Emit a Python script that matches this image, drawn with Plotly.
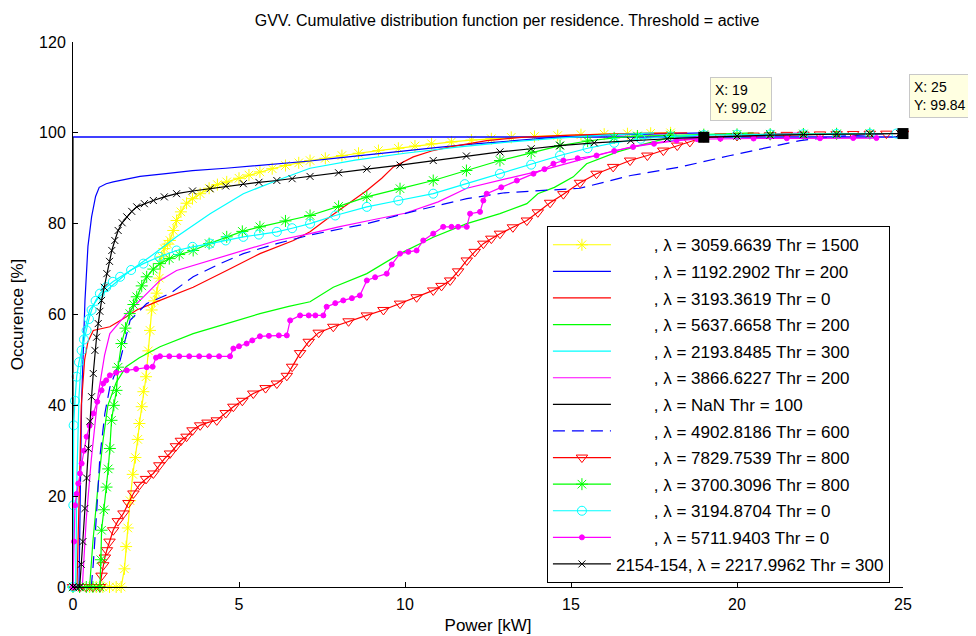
import plotly.graph_objects as go

# CDF curves, (power kW, occurence %)
yellow_star = [(0.5, 0), (0.7, 0), (0.9, 0), (1.1, 0), (1.3, 0), (1.45, 0), (1.55, 4), (1.6, 8.9),
               (1.65, 13), (1.72, 19), (1.8, 24.8), (1.88, 28.5), (1.95, 32.5), (2.0, 36), (2.07, 39.7),
               (2.12, 43), (2.2, 46.3), (2.27, 52), (2.32, 56.5), (2.37, 61), (2.45, 63), (2.52, 64.7),
               (2.6, 68), (2.67, 72.7), (2.75, 74.5), (2.85, 75.5), (2.92, 76.3), (3.02, 78.5), (3.12, 80.7),
               (3.25, 82.6), (3.42, 84.5), (3.6, 85.5), (3.83, 86.6), (4.1, 87.8), (4.35, 88.6), (4.63, 89.2),
               (5.0, 90.0), (5.3, 90.7), (5.63, 91.4), (6.0, 92.1), (6.4, 92.8), (6.8, 93.4), (7.14, 93.9),
               (7.6, 94.4), (8.1, 95.0), (8.6, 95.5), (9.2, 96.1), (9.8, 96.6), (10.3, 97.1), (10.8, 97.6),
               (11.4, 98.0), (12.0, 98.4), (12.6, 98.7), (13.2, 99.0), (13.9, 99.2), (14.6, 99.4), (15.3, 99.6),
               (16.0, 99.7), (16.7, 99.8), (17.4, 99.9), (18.0, 100)]
blue_solid = [(0.18, 0), (0.22, 20), (0.26, 41), (0.36, 63), (0.45, 75), (0.56, 81.5), (0.68, 86), (0.79, 88),
              (1.0, 88.8), (1.21, 89.2), (1.6, 89.8), (2.02, 90.4), (2.8, 91.0), (3.6, 91.7), (4.6, 92.2),
              (5.6, 92.8), (6.4, 93.3), (7.14, 93.8), (8.0, 94.5), (9.0, 95.3), (10.0, 96.0), (11.0, 96.8),
              (12.0, 97.5), (13.0, 98.1), (14.0, 98.7), (14.7, 99.1), (16.0, 99.5), (17.5, 99.8), (19.0, 100)]
blue_level = [(0, 99.1), (25, 99.1)]
red_thin = [(0.12, 0), (0.18, 20), (0.25, 40), (0.35, 50), (0.45, 54), (0.61, 56.5), (1.11, 57.3), (1.5, 59),
            (1.92, 61), (2.62, 63.1), (3.62, 66), (4.63, 69.7), (5.63, 73.4), (6.64, 76.3), (7.14, 78.2),
            (7.74, 81.5), (8.3, 84.5), (8.85, 87.3), (9.3, 90), (9.65, 92.5), (10.25, 94.7), (10.8, 96),
            (11.36, 96.9), (12.46, 98.3), (13.5, 99), (15.0, 99.5), (17.0, 99.9), (18.5, 100)]
green_thin = [(0.5, 0), (0.6, 10), (0.75, 22), (0.9, 32), (1.05, 40), (1.3, 45), (1.6, 48.5), (2.0, 50.5),
              (2.62, 52.9), (3.62, 55.8), (4.63, 58), (5.63, 60.2), (6.5, 61.8), (7.14, 62.8), (7.84, 66),
              (8.85, 69), (9.85, 73.4), (10.85, 77), (11.86, 80), (12.86, 82.2), (13.67, 84.4), (14.0, 86.6),
              (14.5, 88), (15.07, 90.3), (15.47, 93.2), (16.4, 95.8), (17.2, 97.5), (18.0, 99), (19.0, 99.6),
              (20.5, 100)]
cyan_thin = [(0.08, 0), (0.12, 25), (0.18, 42), (0.3, 55), (0.5, 61), (0.8, 64), (1.2, 66.5), (1.7, 69.5),
             (2.32, 72.7), (3.12, 77.1), (4.13, 82.2), (5.13, 86.6), (6.14, 89.5), (7.14, 92.2), (8.5, 94.0),
             (10.0, 95.5), (11.5, 96.8), (13.0, 97.9), (14.5, 98.8), (16.0, 99.5), (17.5, 100)]
magenta_thin = [(0.28, 0), (0.4, 15), (0.55, 28), (0.75, 42), (0.95, 51), (1.11, 55.8), (1.62, 60.2),
                (2.12, 63.9), (2.62, 67.5), (3.12, 69.7), (4.13, 71.9), (5.13, 74.1), (6.14, 76.3),
                (7.14, 77.8), (8.0, 79.3), (9.0, 80.8), (10.0, 82.3), (11.0, 84.8), (11.86, 87.8), (13.0, 89.8),
                (14.0, 91.5), (15.0, 93.5), (16.0, 95.5), (17.0, 97.2), (18.0, 98.3), (19.0, 99.0),
                (20.5, 99.6), (22.0, 100)]
black_thin = [(0, 0), (0, 99)]
blue_dashed = [(0.55, 0), (0.61, 5), (0.71, 16.2), (0.81, 28.7), (0.96, 38.2), (1.11, 44), (1.42, 49.9),
               (1.72, 58.7), (2.22, 62.4), (2.92, 64.6), (3.62, 68.3), (4.43, 71.2), (5.13, 73.4),
               (6.14, 75.6), (7.14, 77.5), (8.85, 80), (10.35, 82.9), (11.86, 85.5), (13.0, 86.8),
               (14.0, 87.2), (15.27, 87.8), (16.8, 90.6), (18.3, 92.5), (19.8, 95), (21.0, 96.8),
               (21.9, 98.3), (23.0, 99.2), (24.5, 99.8)]
red_tri = [(0.0, 0), (0.2, 0), (0.4, 0), (0.6, 0), (0.81, 0), (0.86, 2.5), (0.91, 4.8), (0.96, 6.5),
           (1.02, 8.1), (1.1, 10), (1.21, 12.5), (1.35, 14.5), (1.52, 16.2), (1.67, 18.5), (1.82, 20.6),
           (2.0, 22.5), (2.2, 23.8), (2.42, 25), (2.6, 26.8), (2.75, 28.2), (2.92, 29.4), (3.1, 31),
           (3.25, 32.2), (3.42, 33.1), (3.6, 34.5), (3.83, 35.6), (4.05, 36.2), (4.33, 36.7), (4.6, 38.3),
           (4.83, 39.7), (5.1, 41), (5.43, 42.6), (5.8, 43.8), (6.14, 44.8), (6.44, 46.5), (6.6, 48.5),
           (6.84, 51.5), (7.1, 54), (7.4, 56), (7.84, 57.3), (8.3, 58.5), (8.85, 59.8), (9.35, 61),
           (9.85, 62.4), (10.35, 63.8), (10.85, 65.3), (11.1, 66.3), (11.36, 67.5), (11.6, 69.5),
           (11.86, 71.9), (12.1, 73.8), (12.36, 75.6), (12.6, 76.7), (12.86, 77.8), (13.25, 79.2),
           (13.67, 80.7), (14.0, 82.5), (14.37, 84.6), (14.77, 86.5), (15.27, 89), (15.77, 91),
           (16.27, 92.5), (16.78, 93.9), (17.3, 95), (17.78, 96.1), (18.2, 97.2), (18.58, 98), (19.0, 99.02),
           (19.5, 99.2), (20.0, 99.3), (20.5, 99.4), (21.0, 99.5), (21.5, 99.55), (22.0, 99.6), (22.5, 99.65),
           (23.0, 99.7), (23.5, 99.75), (24.0, 99.8), (24.5, 99.82), (25.0, 99.84)]
green_star = [(0.0, 0), (0.2, 0), (0.4, 0), (0.6, 0), (0.81, 0), (0.84, 6), (0.86, 12.5), (0.93, 17),
              (1.01, 22), (1.06, 26), (1.11, 30.5), (1.16, 36.7), (1.23, 40), (1.31, 43.3), (1.36, 48.4),
              (1.46, 53.6), (1.58, 57), (1.71, 60.2), (1.82, 62.2), (1.92, 63.9), (2.07, 66.3), (2.22, 68.3),
              (2.42, 70), (2.62, 71.2), (2.9, 72.3), (3.2, 73.2), (3.62, 74.1), (4.1, 75.6), (4.63, 77.1),
              (5.1, 78.3), (5.63, 79.3), (6.4, 80.6), (7.14, 81.8), (8.0, 83.8), (8.85, 85.9), (9.85, 87.7),
              (10.85, 89.5), (11.85, 91.7), (12.86, 93.9), (13.8, 95.6), (14.67, 97.2), (15.5, 98.2),
              (16.3, 98.9), (17.0, 99.3), (18.0, 99.5), (19.0, 99.6), (20.0, 99.65), (21.0, 99.7),
              (22.0, 99.75), (23.0, 99.8), (24.0, 99.85)]
cyan_circle = [(0.0, 0), (0.01, 18), (0.02, 35.6), (0.06, 41), (0.11, 46.3), (0.18, 49.5), (0.26, 52.1),
               (0.33, 54.5), (0.41, 56.5), (0.48, 59), (0.56, 61), (0.68, 63), (0.81, 64.6), (1.0, 66),
               (1.2, 67.2), (1.42, 68.3), (1.75, 69.8), (2.12, 71.2), (2.6, 72.7), (3.12, 74.1), (3.6, 74.9),
               (4.13, 75.6), (4.6, 76.3), (5.13, 77.1), (5.6, 77.6), (6.14, 78.2), (6.6, 79), (7.14, 80),
               (7.9, 81.8), (8.85, 83.7), (9.8, 85.1), (10.85, 86.6), (11.8, 88.7), (12.86, 91), (13.8, 93),
               (14.67, 95), (15.5, 96.6), (16.3, 97.8), (17.1, 98.7), (18.0, 99.2), (19.0, 99.5), (20.0, 99.6),
               (21.0, 99.65), (22.0, 99.7), (23.0, 99.75), (24.0, 99.8), (24.8, 99.84)]
magenta_dot = [(0.0, 0), (0.03, 10), (0.06, 18), (0.11, 20.5), (0.16, 22.8), (0.21, 25), (0.26, 27.2),
               (0.33, 30), (0.41, 33.1), (0.5, 35.5), (0.61, 38.2), (0.73, 40.8), (0.86, 43.3), (0.91, 44.8),
               (1.0, 45.5), (1.11, 46.6), (1.3, 47.2), (1.62, 47.7), (1.9, 48), (2.22, 48.4), (2.4, 48.5),
               (2.5, 50.5), (2.62, 50.8), (2.9, 50.8), (3.2, 50.8), (3.5, 50.8), (3.8, 50.8), (4.1, 50.8),
               (4.4, 50.8), (4.73, 50.8), (4.83, 52.5), (5.0, 53), (5.23, 53.6), (5.4, 54.3), (5.63, 55.2),
               (5.9, 55.3), (6.2, 55.4), (6.44, 55.4), (6.54, 58.7), (6.84, 59.8), (7.1, 59.8), (7.3, 59.8),
               (7.54, 59.8), (7.64, 61.7), (7.9, 62.5), (8.14, 63.1), (8.4, 63.6), (8.64, 64.2), (8.85, 67.5),
               (9.1, 68.2), (9.45, 69), (9.6, 71), (9.85, 73.4), (10.1, 73.8), (10.35, 74.1), (10.55, 76.3),
               (10.85, 77.8), (11.15, 79.3), (11.4, 79.3), (11.6, 79.3), (11.86, 79.3), (11.96, 82.2),
               (12.26, 82.6), (12.36, 85.1), (12.46, 86.6), (12.9, 88), (13.37, 89.5), (13.87, 91),
               (14.2, 92), (14.47, 93.2), (14.77, 93.9), (15.2, 94.4), (15.77, 95), (16.3, 96), (16.87, 96.9),
               (17.5, 97.6), (18.18, 98.3), (18.8, 98.6), (19.5, 98.7), (20.5, 98.75), (21.5, 98.8),
               (22.5, 98.8), (23.5, 98.85), (24.2, 98.85)]
black_x = [(0.0, 0), (0.1, 0), (0.2, 0), (0.25, 5), (0.3, 10), (0.36, 17.3), (0.41, 24), (0.46, 30.5),
           (0.51, 36.5), (0.56, 41.9), (0.61, 47), (0.66, 52.1), (0.71, 55), (0.76, 58), (0.81, 60.7),
           (0.86, 63.1), (0.94, 66), (1.02, 69), (1.1, 71.7), (1.17, 74.1), (1.26, 76.3), (1.36, 78.5),
           (1.48, 80.2), (1.62, 81.5), (1.77, 82.7), (1.92, 83.7), (2.15, 84.4), (2.42, 85.1), (2.75, 85.9),
           (3.12, 86.6), (3.6, 87.2), (4.13, 87.7), (4.6, 88.3), (5.13, 88.8), (5.6, 89.1), (6.14, 89.5),
           (6.6, 89.9), (7.14, 90.4), (8.0, 91.2), (8.85, 92), (9.85, 92.9), (10.85, 93.9), (11.85, 94.9),
           (12.86, 95.8), (13.8, 96.5), (14.67, 97.2), (15.7, 97.8), (16.8, 98.3), (17.9, 98.7), (19.0, 99.0),
           (20.0, 99.3), (21.0, 99.5), (22.0, 99.6), (23.0, 99.7), (24.0, 99.8), (24.9, 99.85)]

pad = "\u00a0" * 8
series = [
    (yellow_star, pad + ", λ = 3059.6639 Thr = 1500", "#ffff00", "solid", "asterisk-open", 10),
    (blue_solid, pad + ", λ = 1192.2902 Thr = 200", "#0000ff", "solid", None, 0),
    (red_thin, pad + ", λ = 3193.3619 Thr = 0", "#ff0000", "solid", None, 0),
    (green_thin, pad + ", λ = 5637.6658 Thr = 200", "#00ff00", "solid", None, 0),
    (cyan_thin, pad + ", λ = 2193.8485 Thr = 300", "#00ffff", "solid", None, 0),
    (magenta_thin, pad + ", λ = 3866.6227 Thr = 200", "#ff00ff", "solid", None, 0),
    (black_thin, pad + ", λ = NaN Thr = 100", "#000000", "solid", None, 0),
    (blue_dashed, pad + ", λ = 4902.8186 Thr = 600", "#0000ff", "12px,7px", None, 0),
    (red_tri, pad + ", λ = 7829.7539 Thr = 800", "#ff0000", "solid", "triangle-down-open", 10),
    (green_star, pad + ", λ = 3700.3096 Thr = 800", "#00ff00", "solid", "asterisk-open", 10),
    (cyan_circle, pad + ", λ = 3194.8704 Thr = 0", "#00ffff", "solid", "circle-open", 9),
    (magenta_dot, pad + ", λ = 5711.9403 Thr = 0", "#ff00ff", "solid", "circle", 5),
    (black_x, "2154-154, λ = 2217.9962 Thr = 300", "#000000", "solid", "x-thin-open", 7),
]

tip_x = [19, 25]
tip_y = [99.02, 99.84]

FONT = "Liberation Sans, Arial, sans-serif"

fig = go.Figure()
for i, (pts, name, color, dash, symbol, size) in enumerate(series):
    xs = [p[0] for p in pts]
    ys = [p[1] for p in pts]
    kw = dict(mode="lines")
    if symbol:
        kw = dict(mode="lines+markers",
                  marker=dict(symbol=symbol, size=size, color=color,
                              line=dict(color=color, width=1)))
    fig.add_trace(go.Scatter(x=xs, y=ys, name=name, legendgroup=f"g{i}",
                             line=dict(color=color, width=1.2, dash=dash),
                             cliponaxis=False, **kw))
    if i == 1:
        fig.add_trace(go.Scatter(x=[p[0] for p in blue_level], y=[p[1] for p in blue_level],
                                 mode="lines", line=dict(color="#0000ff", width=1.5),
                                 showlegend=False, hoverinfo="skip"))

fig.add_trace(go.Scatter(x=tip_x, y=tip_y, mode="markers", showlegend=False, cliponaxis=False,
                         marker=dict(symbol="square", size=11, color="black")))

for tx, ty in zip(tip_x, tip_y):
    fig.add_annotation(x=tx, y=ty, xref="x", yref="y", showarrow=False,
                       xanchor="left", yanchor="bottom", xshift=6, yshift=16, align="left",
                       text=f"X: {tx}<br>Y: {ty}", font=dict(family=FONT, size=14, color="black"),
                       bgcolor="#ffffe1", bordercolor="#c8c8c8", borderwidth=1, borderpad=4)

axis_common = dict(showline=True, linecolor="black", linewidth=1, ticks="inside", ticklen=5,
                   tickcolor="black", showgrid=False, zeroline=False, mirror=False, automargin=False,
                   ticklabelstandoff=3, tickfont=dict(family=FONT, size=16, color="black"))
fig.update_xaxes(range=[0, 25], tick0=0, dtick=5, title=dict(text="Power [kW]", standoff=6,
                 font=dict(family=FONT, size=17, color="black")), **axis_common)
fig.update_yaxes(range=[0, 120], tick0=0, dtick=20, title=dict(text="Occurence [%]", standoff=12,
                 font=dict(family=FONT, size=17, color="black")), **axis_common)

# the page body keeps its default 8px margin, so the figure is 8px smaller
fig.update_layout(
    width=968, height=628,
    margin=dict(l=65, r=73, t=34, b=49),
    paper_bgcolor="white", plot_bgcolor="white",
    title=dict(text="GVV. Cumulative distribution function per residence. Threshold = active",
               xref="paper", x=0.523, xanchor="center", y=0.981, yanchor="middle",
               font=dict(family=FONT, size=16, color="black")),
    legend=dict(x=0.571, y=0.662, xanchor="left", yanchor="top", bgcolor="white",
                bordercolor="black", borderwidth=1, itemwidth=58, tracegroupgap=1.5,
                font=dict(family=FONT, size=17, color="black")),
    showlegend=True,
)

fig.write_html("out.html")
